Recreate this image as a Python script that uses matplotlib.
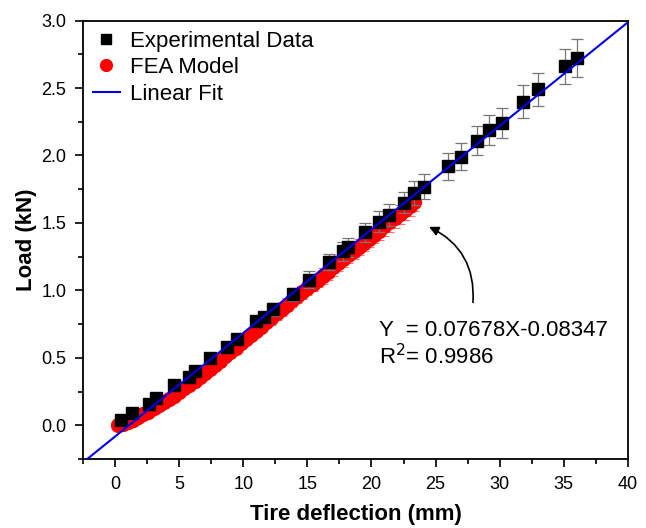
import matplotlib
matplotlib.use("Agg")
import matplotlib.pyplot as plt
from matplotlib.ticker import MultipleLocator

plt.rcParams['font.family'] = ['Liberation Sans', 'DejaVu Sans']

# experimental data (tire deflection mm, load kN, error kN)
exp_x = [0.5, 1.35, 2.65, 3.2, 4.6, 5.8, 6.2, 7.4, 8.7, 9.5, 11.0, 11.6, 12.3,
         13.9, 15.1, 16.7, 17.8, 18.2, 19.5, 20.6, 21.4, 22.5, 23.3, 24.1,
         26.0, 27.0, 28.2, 29.2, 30.2, 31.8, 33.0, 35.1, 36.0]
exp_y = [0.04, 0.09, 0.16, 0.20, 0.30, 0.36, 0.40, 0.50, 0.58, 0.64, 0.77, 0.80, 0.86,
         0.97, 1.08, 1.21, 1.29, 1.32, 1.43, 1.51, 1.56, 1.65, 1.72, 1.77,
         1.92, 1.99, 2.11, 2.19, 2.24, 2.40, 2.49, 2.66, 2.72]
exp_err = [0.02, 0.02, 0.02, 0.02, 0.03, 0.03, 0.03, 0.03, 0.04, 0.04, 0.04, 0.04, 0.05,
           0.05, 0.06, 0.06, 0.07, 0.07, 0.07, 0.08, 0.08, 0.08, 0.09, 0.09,
           0.10, 0.10, 0.11, 0.11, 0.11, 0.12, 0.12, 0.13, 0.14]

# FEA model
fea_x = [0.2, 0.6, 1.0, 1.4, 1.8, 2.2, 2.6, 3.0, 3.4, 3.8, 4.2, 4.6, 5.0, 5.4, 5.8,
         6.2, 6.6, 7.0, 7.4, 7.8, 8.2, 8.6, 9.0, 9.4, 9.8, 10.2, 10.6, 11.0, 11.4,
         11.8, 12.2, 12.6, 13.0, 13.4, 13.8, 14.2, 14.6, 15.0, 15.4, 15.8, 16.2,
         16.6, 17.0, 17.4, 17.8, 18.2, 18.6, 19.0, 19.4, 19.8, 20.2, 20.6, 21.0,
         21.4, 21.8, 22.2, 22.6, 23.0, 23.3]
fea_y = [0.00, 0.01, 0.025, 0.04, 0.06, 0.08, 0.10, 0.125, 0.15, 0.17, 0.195, 0.22,
         0.245, 0.275, 0.30, 0.325, 0.355, 0.39, 0.42, 0.45, 0.48, 0.51, 0.545,
         0.575, 0.61, 0.64, 0.67, 0.70, 0.73, 0.765, 0.795, 0.83, 0.86, 0.895,
         0.925, 0.955, 0.985, 1.015, 1.045, 1.075, 1.105, 1.135, 1.17, 1.20, 1.23,
         1.26, 1.29, 1.32, 1.35, 1.38, 1.41, 1.44, 1.475, 1.505, 1.535, 1.565,
         1.595, 1.625, 1.655]
fea_err = [0.01, 0.01, 0.01, 0.01, 0.01, 0.02, 0.02, 0.02, 0.02, 0.02, 0.02, 0.02,
           0.02, 0.03, 0.03, 0.03, 0.03, 0.03, 0.03, 0.03, 0.03, 0.03, 0.04,
           0.04, 0.04, 0.04, 0.04, 0.04, 0.04, 0.04, 0.05, 0.05, 0.05, 0.05,
           0.05, 0.05, 0.05, 0.05, 0.05, 0.05, 0.06, 0.06, 0.06, 0.06, 0.06,
           0.06, 0.06, 0.06, 0.06, 0.06, 0.06, 0.07, 0.07, 0.07, 0.07, 0.07,
           0.07, 0.07, 0.07]

slope = 0.07678
intercept = -0.08347
fit_x = [-2.5, 40.2]
fit_y = [slope * v + intercept for v in fit_x]

fig = plt.figure(figsize=(6.46, 5.28), dpi=100)
ax = fig.add_axes([0.1285, 0.1307, 0.8435, 0.8303])

ax.errorbar(fea_x, fea_y, yerr=fea_err, fmt='none', ecolor='#ff7070', elinewidth=0.8,
            capsize=3.5, capthick=0.8, zorder=2)
ax.plot(fea_x, fea_y, 'o', color='red', ms=10, mec='red', label='FEA Model', zorder=3)
ax.errorbar(exp_x, exp_y, yerr=exp_err, fmt='none', ecolor='#777777', elinewidth=0.9,
            capsize=4, capthick=0.9, zorder=4)
ax.plot(exp_x, exp_y, 's', color='black', ms=8, label='Experimental Data', zorder=4)
ax.plot(fit_x, fit_y, '-', color='#0000ee', lw=1.5, label='Linear Fit', zorder=5)

ax.set_xlim(-2.5, 40)
ax.set_ylim(-0.25, 3.0)
ax.xaxis.set_major_locator(MultipleLocator(5))
ax.xaxis.set_minor_locator(MultipleLocator(2.5))
ax.yaxis.set_major_locator(MultipleLocator(0.5))
ax.yaxis.set_minor_locator(MultipleLocator(0.25))
ax.yaxis.set_major_formatter(matplotlib.ticker.FormatStrFormatter('%.1f'))
ax.tick_params(which='major', direction='out', length=6, width=1.2, labelsize=13, pad=6)
ax.tick_params(which='minor', direction='out', length=3.5, width=1.2)
for sp in ax.spines.values():
    sp.set_linewidth(1.3)

ax.set_xlabel('Tire deflection (mm)', fontsize=16, fontweight='bold', labelpad=8)
ax.set_ylabel('Load (kN)', fontsize=16, fontweight='bold', labelpad=3)

handles, labels = ax.get_legend_handles_labels()
order = [labels.index('Experimental Data'), labels.index('FEA Model'), labels.index('Linear Fit')]
ax.legend([handles[i] for i in order], [labels[i] for i in order], loc='upper left',
          frameon=False, fontsize=16, handlelength=1.2, handletextpad=0.45,
          labelspacing=0.25, borderaxespad=0.35, borderpad=0.1, markerscale=0.85)

ax.annotate('', xy=(24.3, 1.48), xytext=(27.9, 0.89),
            arrowprops=dict(arrowstyle='-|>', color='black', lw=1.2,
                            connectionstyle='arc3,rad=0.35', mutation_scale=14))
ax.text(20.6, 0.70, 'Y  = 0.07678X-0.08347', fontsize=16, va='center', ha='left')
ax.text(20.6, 0.51, 'R$^2$= 0.9986', fontsize=16, va='center', ha='left')

fig.savefig('out.png', dpi=100)
